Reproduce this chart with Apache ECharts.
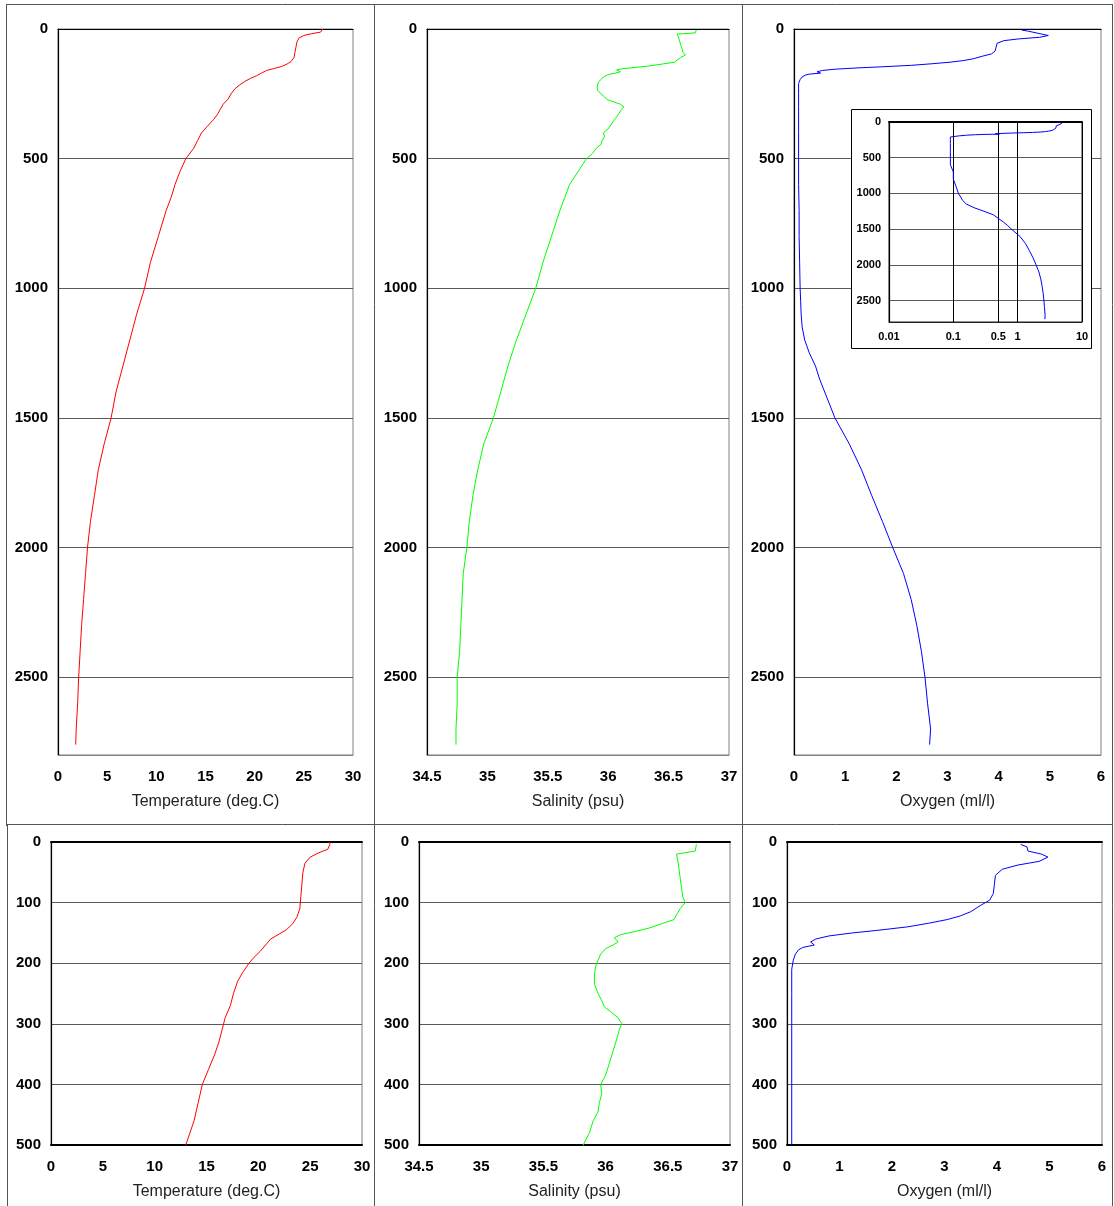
<!DOCTYPE html>
<html>
<head>
<meta charset="utf-8">
<script src="https://cdn.jsdelivr.net/npm/echarts@6/dist/echarts.min.js"></script>
<style>
  html, body { margin: 0; padding: 0; background: #fff; }
  #chart { width: 1114px; height: 1206px; }
</style>
</head>
<body>
<div id="chart"></div>
<script>
// CTD cast: temperature, salinity and dissolved oxygen against depth (m)
const tempDepth = [0, 4, 12, 18, 25, 35, 50, 70, 90, 110, 125, 135, 145, 152, 160, 170, 180, 190, 200, 215, 230, 250, 270, 290, 310, 330, 350, 375, 400, 430, 460, 500, 550, 600, 650, 700, 800, 900, 1000, 1100, 1200, 1300, 1400, 1500, 1600, 1700, 1800, 1900, 2000, 2100, 2200, 2300, 2400, 2500, 2600, 2700, 2760];
const tempValues = [26.9, 26.9, 26.7, 25.8, 25.0, 24.5, 24.3, 24.2, 24.1, 24.0, 23.7, 23.3, 22.7, 22.0, 21.2, 20.7, 20.2, 19.6, 19.1, 18.5, 18.0, 17.6, 17.3, 16.8, 16.5, 16.2, 15.8, 15.2, 14.6, 14.2, 13.8, 13.0, 12.4, 11.9, 11.5, 11.0, 10.2, 9.4, 8.8, 8.0, 7.3, 6.6, 5.9, 5.4, 4.7, 4.1, 3.7, 3.3, 3.0, 2.8, 2.6, 2.4, 2.25, 2.1, 2.0, 1.85, 1.8];

const salDepth = [4, 15, 20, 30, 45, 60, 75, 90, 100, 110, 120, 128, 135, 142, 148, 153, 158, 165, 170, 176, 185, 195, 205, 220, 235, 250, 262, 272, 280, 290, 300, 310, 325, 345, 365, 385, 400, 415, 430, 445, 460, 480, 500, 550, 600, 650, 700, 800, 900, 1000, 1100, 1200, 1300, 1400, 1500, 1600, 1700, 1800, 1900, 2000, 2100, 2200, 2300, 2400, 2500, 2600, 2700, 2760];
const salValues = [36.73, 36.72, 36.57, 36.58, 36.59, 36.60, 36.61, 36.62, 36.64, 36.60, 36.57, 36.55, 36.45, 36.35, 36.23, 36.12, 36.07, 36.10, 36.06, 36.00, 35.96, 35.94, 35.92, 35.91, 35.91, 35.94, 35.97, 35.99, 36.04, 36.10, 36.13, 36.11, 36.09, 36.06, 36.03, 36.00, 35.96, 35.97, 35.95, 35.94, 35.90, 35.87, 35.82, 35.75, 35.68, 35.64, 35.60, 35.53, 35.46, 35.40, 35.32, 35.24, 35.17, 35.11, 35.05, 34.97, 34.92, 34.88, 34.85, 34.83, 34.80, 34.79, 34.78, 34.77, 34.75, 34.75, 34.74, 34.74];

const oxyDepth = [4, 8, 15, 20, 25, 32, 38, 45, 55, 70, 85, 96, 105, 115, 122, 128, 134, 140, 146, 150, 155, 160, 165, 170, 174, 178, 185, 195, 210, 250, 300, 400, 500, 600, 700, 800, 900, 1000, 1050, 1100, 1150, 1200, 1250, 1300, 1350, 1400, 1450, 1500, 1600, 1700, 1800, 1900, 2000, 2100, 2200, 2300, 2400, 2500, 2600, 2700, 2760];
const oxyValues = [4.45, 4.57, 4.59, 4.85, 4.97, 4.80, 4.40, 4.10, 3.97, 3.95, 3.93, 3.86, 3.68, 3.50, 3.30, 3.05, 2.70, 2.30, 1.70, 1.25, 0.80, 0.55, 0.45, 0.52, 0.30, 0.22, 0.16, 0.12, 0.09, 0.09, 0.09, 0.09, 0.09, 0.09, 0.10, 0.10, 0.11, 0.12, 0.13, 0.14, 0.16, 0.21, 0.30, 0.42, 0.50, 0.60, 0.70, 0.80, 1.08, 1.32, 1.52, 1.73, 1.93, 2.14, 2.29, 2.40, 2.49, 2.56, 2.61, 2.67, 2.65];

// axis ranges and labels
const tempRange = [0, 30, 5];
const salRange = [34.5, 37, 0.5];
const oxyRange = [0, 6, 1];
const insetTicks = [0.01, 0.1, 0.5, 1, 10];
const xTitles = ['Temperature (deg.C)', 'Salinity (psu)', 'Oxygen (ml/l)'];

const FONT = '"Liberation Sans", Arial, sans-serif';
const GRIDLINE = '#5a5a5a';

function pairs(depths, values, maxDepth) {
  const out = [];
  for (let i = 0; i < depths.length; i++) {
    if (depths[i] <= maxDepth) out.push([values[i], depths[i]]);
  }
  return out;
}

const variables = [
  { depth: tempDepth, values: tempValues, range: tempRange, color: '#ff0000' },
  { depth: salDepth, values: salValues, range: salRange, color: '#00ff00' },
  { depth: oxyDepth, values: oxyValues, range: oxyRange, color: '#0000ff' }
];

// plot-area boxes: full cast on the top row, upper 500 m on the bottom row
const boxes = [
  { left: 58, top: 29, width: 295, height: 726, maxDepth: 2800, interval: 500, row: 0 },
  { left: 427, top: 29, width: 302, height: 726, maxDepth: 2800, interval: 500, row: 0 },
  { left: 794, top: 29, width: 307, height: 726, maxDepth: 2800, interval: 500, row: 0 },
  { left: 51, top: 842, width: 311, height: 303, maxDepth: 500, interval: 100, row: 1 },
  { left: 419, top: 842, width: 311, height: 303, maxDepth: 500, interval: 100, row: 1 },
  { left: 787, top: 842, width: 315, height: 303, maxDepth: 500, interval: 100, row: 1 }
];

const grid = [], xAxis = [], yAxis = [], series = [];

boxes.forEach((b, i) => {
  const v = variables[i % 3];
  grid.push({ left: b.left, top: b.top, width: b.width, height: b.height, show: true,
    borderColor: '#808080', borderWidth: 1, backgroundColor: '#fff' });
  // bottom axis carries the tick labels and the title
  xAxis.push({
    type: 'value', gridIndex: i, position: 'bottom', min: v.range[0], max: v.range[1], interval: v.range[2],
    name: xTitles[i % 3], nameLocation: 'middle', nameGap: 39,
    nameTextStyle: { fontFamily: FONT, fontSize: 16, color: '#222' },
    axisLine: { show: true, onZero: false, lineStyle: { color: b.row ? '#000' : '#808080', width: b.row ? 2 : 1 } },
    axisTick: { show: false },
    axisLabel: { fontFamily: FONT, fontSize: 15, fontWeight: 'bold', color: '#000', margin: 14,
      formatter: val => String(+val.toFixed(2)) },
    splitLine: { show: false }
  });
  // top axis: the sea-surface line
  xAxis.push({
    type: 'value', gridIndex: i, position: 'top', min: v.range[0], max: v.range[1], interval: v.range[2],
    axisLine: { show: true, onZero: false, lineStyle: { color: '#000', width: b.row ? 2 : 1.2 } },
    axisTick: { show: false }, axisLabel: { show: false }, splitLine: { show: false }
  });
  yAxis.push({
    type: 'value', gridIndex: i, inverse: true, min: 0, max: b.maxDepth, interval: b.interval,
    axisLine: { show: true, onZero: false, lineStyle: { color: '#000', width: 1.2 } },
    axisTick: { show: false },
    axisLabel: { fontFamily: FONT, fontSize: 15, fontWeight: 'bold', color: '#000', margin: 10,
      padding: [3, 0, 0, 0],
      showMaxLabel: b.row === 1, formatter: val => String(val) },
    splitLine: { show: true, lineStyle: { color: GRIDLINE, width: 1 } }
  });
  series.push({
    type: 'line', xAxisIndex: i * 2, yAxisIndex: i, showSymbol: false, clip: true,
    data: pairs(v.depth, v.values, b.maxDepth + 60),
    lineStyle: { color: v.color, width: 1 }, itemStyle: { color: v.color }, z: 3
  });
});

// inset: oxygen on a logarithmic scale
const insetIdx = boxes.length;
grid.push({ left: 889, top: 122, width: 193, height: 200, show: true, borderColor: '#222', borderWidth: 1, z: 20 });
xAxis.push({
  type: 'log', logBase: 10, gridIndex: insetIdx, position: 'bottom', min: 0.01, max: 10, z: 20,
  axisLine: { show: true, onZero: false, lineStyle: { color: '#222', width: 1 } },
  axisTick: { show: false, customValues: insetTicks },
  axisLabel: { fontFamily: FONT, fontSize: 11, fontWeight: 'bold', color: '#000', margin: 9,
    customValues: insetTicks, formatter: val => String(+(+val).toPrecision(2)) },
  splitLine: { show: true, lineStyle: { color: '#000', width: 1 } }
});
xAxis.push({
  type: 'log', logBase: 10, gridIndex: insetIdx, position: 'top', min: 0.01, max: 10, z: 20,
  axisLine: { show: true, onZero: false, lineStyle: { color: '#000', width: 2 } },
  axisTick: { show: false }, axisLabel: { show: false }, splitLine: { show: false }
});
yAxis.push({
  type: 'value', gridIndex: insetIdx, inverse: true, min: 0, max: 2800, interval: 500, z: 20,
  axisLine: { show: true, onZero: false, lineStyle: { color: '#000', width: 1.2 } },
  axisTick: { show: false },
  axisLabel: { fontFamily: FONT, fontSize: 11, fontWeight: 'bold', color: '#000', margin: 8,
    showMaxLabel: false, formatter: val => String(val) },
  splitLine: { show: true, lineStyle: { color: GRIDLINE, width: 1 } }
});
series.push({
  type: 'line', xAxisIndex: insetIdx * 2, yAxisIndex: insetIdx, showSymbol: false, z: 22,
  data: pairs(oxyDepth, oxyValues, 2800),
  lineStyle: { color: '#0000ff', width: 1 }
});

// panel frame lines and the inset's white box
const frame = { stroke: '#555', lineWidth: 1 };
const seg = (x1, y1, x2, y2) => ({ type: 'line', silent: true, z: 1,
  shape: { x1, y1, x2, y2 }, style: frame });
const graphic = [
  seg(6, 4.5, 1112, 4.5),
  seg(6.5, 4, 6.5, 826),
  seg(7.5, 824, 7.5, 1206),
  seg(374.5, 4, 374.5, 1206),
  seg(742.5, 4, 742.5, 1206),
  seg(1112.5, 4, 1112.5, 1206),
  seg(6, 824.5, 1112, 824.5),
  { type: 'rect', silent: true, z: 15, shape: { x: 851.5, y: 109.5, width: 240, height: 239 },
    style: { fill: '#fff', stroke: '#000', lineWidth: 1 } }
];

const chart = echarts.init(document.getElementById('chart'), null, { renderer: 'canvas' });
chart.setOption({
  animation: false,
  backgroundColor: '#fff',
  textStyle: { fontFamily: FONT },
  grid, xAxis, yAxis, series, graphic
});
</script>
</body>
</html>
